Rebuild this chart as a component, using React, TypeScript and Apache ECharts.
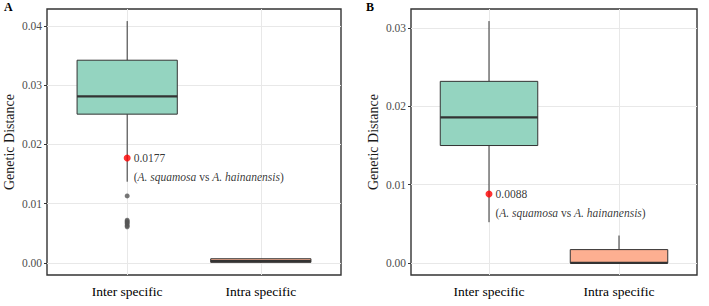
import React, { useEffect, useRef } from "react";
import * as echarts from "echarts";

// Category names along the x axis
const categories = ["Inter specific", "Intra specific"];

// Box statistics per category: [lower whisker, Q1, median, Q3, upper whisker]
const boxA = [
  [0.0137, 0.0251, 0.0281, 0.0342, 0.0408],
  [0.0, 0.0001, 0.0003, 0.0007, 0.0007],
];
const boxB = [
  [0.0052, 0.015, 0.0186, 0.0232, 0.0309],
  [0.0, 0.0, 0.0, 0.0017, 0.0035],
];

// Outlying inter-specific distances
const outliersA = [0.0113, 0.0072, 0.007, 0.0068, 0.0066, 0.0063, 0.0061];
const outliersB: number[] = [];

// A. squamosa vs A. hainanensis distance
const highlightA = 0.0177;
const highlightB = 0.0088;

// Major tick values of the y axes
const yTicksA = [0, 0.01, 0.02, 0.03, 0.04];
const yTicksB = [0, 0.01, 0.02, 0.03];

const FONT = "'Liberation Serif', 'DejaVu Serif', 'Times New Roman', serif";
const BOX_FILLS = ["#94d4c0", "#fdaf91"];
const INK = "#333333";

type Rect = { left: number; top: number; width: number; height: number };

function buildPanel(
  idx: number,
  box: number[][],
  outliers: number[],
  highlight: number,
  yTicks: number[],
  rect: Rect
) {
  const all = box.flat().concat(outliers, [highlight]);
  const lo = Math.min(...all);
  const hi = Math.max(...all);
  const pad = (hi - lo) * 0.05;
  const yMin = lo - pad;
  const yMax = hi + pad;

  const half = (yTicks[1] - yTicks[0]) / 2;
  const minors: number[] = [];
  if (yTicks[0] - half > yMin) minors.push(yTicks[0] - half);
  yTicks.forEach((v) => {
    if (v + half < yMax) minors.push(+(v + half).toFixed(6));
  });

  const catPos = categories.map((_, i) => i + 1);

  const grid = {
    ...rect,
    show: true,
    borderColor: INK,
    borderWidth: 1.4,
    backgroundColor: "transparent",
    containLabel: false,
  };

  const xAxis = {
    gridIndex: idx,
    type: "value",
    min: 0.4,
    max: categories.length + 0.6,
    axisLine: { show: false },
    axisTick: {
      show: true,
      customValues: catPos,
      length: 3,
      lineStyle: { color: INK, width: 1 },
    },
    axisLabel: {
      customValues: catPos,
      formatter: (v: number) => categories[Math.round(v) - 1] ?? "",
      fontFamily: FONT,
      fontSize: 13.5,
      color: "#000000",
      margin: 9,
    },
    splitLine: { show: false },
  };

  const yAxis = {
    gridIndex: idx,
    type: "value",
    min: yMin,
    max: yMax,
    name: "Genetic Distance",
    nameLocation: "middle",
    nameGap: 31,
    nameTextStyle: { fontFamily: FONT, fontSize: 14, color: "#1a1a1a" },
    axisLine: { show: false },
    axisTick: {
      show: true,
      customValues: yTicks,
      length: 3,
      lineStyle: { color: INK, width: 1 },
    },
    axisLabel: {
      customValues: yTicks,
      formatter: (v: number) => v.toFixed(2),
      fontFamily: FONT,
      fontSize: 11.5,
      color: "#4d4d4d",
      margin: 5,
    },
    splitLine: { show: false },
  };

  const majorStyle = { color: "#e8e8e8", width: 1, type: "solid" };
  const minorStyle = { color: "#f2f2f2", width: 0.8, type: "solid" };

  // Panel grid lines, kept beneath the boxes and points
  const gridLines = {
    type: "line",
    xAxisIndex: idx,
    yAxisIndex: idx,
    data: [],
    z: 1,
    silent: true,
    markLine: {
      silent: true,
      z: 1,
      symbol: "none",
      label: { show: false },
      animation: false,
      data: [
        ...minors.map((v) => ({ yAxis: v, lineStyle: minorStyle })),
        ...yTicks.map((v) => ({ yAxis: v, lineStyle: majorStyle })),
        ...catPos.map((x) => ({ xAxis: x, lineStyle: majorStyle })),
      ],
    },
  };

  const boxes = {
    type: "custom",
    xAxisIndex: idx,
    yAxisIndex: idx,
    z: 3,
    silent: true,
    data: box.map((b, i) => [i + 1, ...b]),
    renderItem: (params: any, api: any) => {
      const x = api.value(0);
      const [lw, q1, md, q3, uw] = [1, 2, 3, 4, 5].map((k) => api.value(k));
      const halfW = api.size([0.75, 0])[0] / 2;
      const pLw = api.coord([x, lw]);
      const pQ1 = api.coord([x, q1]);
      const pMd = api.coord([x, md]);
      const pQ3 = api.coord([x, q3]);
      const pUw = api.coord([x, uw]);
      const cx = pMd[0];
      const stroke = { stroke: INK, lineWidth: 1 };
      return {
        type: "group",
        children: [
          {
            type: "line",
            shape: { x1: cx, y1: pQ1[1], x2: cx, y2: pLw[1] },
            style: stroke,
          },
          {
            type: "line",
            shape: { x1: cx, y1: pQ3[1], x2: cx, y2: pUw[1] },
            style: stroke,
          },
          {
            type: "rect",
            shape: {
              x: cx - halfW,
              y: pQ3[1],
              width: halfW * 2,
              height: pQ1[1] - pQ3[1],
            },
            style: { fill: BOX_FILLS[params.dataIndex], stroke: INK, lineWidth: 1 },
          },
          {
            type: "line",
            shape: { x1: cx - halfW, y1: pMd[1], x2: cx + halfW, y2: pMd[1] },
            style: { stroke: INK, lineWidth: 2.2 },
          },
        ],
      };
    },
  };

  const outlierSeries = {
    type: "scatter",
    xAxisIndex: idx,
    yAxisIndex: idx,
    z: 4,
    silent: true,
    symbolSize: 5,
    itemStyle: { color: "#555555", opacity: 0.8 },
    data: outliers.map((v) => [1, v]),
  };

  const highlightSeries = {
    type: "scatter",
    xAxisIndex: idx,
    yAxisIndex: idx,
    z: 5,
    silent: true,
    symbolSize: 7,
    itemStyle: { color: "#ff0000" },
    data: [[1, highlight]],
    label: {
      show: true,
      position: "right",
      distance: 3,
      offset: [0, 9.5],
      align: "left",
      formatter: () =>
        `{n|${highlight.toFixed(4)}}\n{t|(}{i|A. squamosa}{t| vs }{i|A. hainanensis}{t|)}`,
      rich: {
        n: { fontFamily: FONT, fontSize: 11.5, color: "#000", lineHeight: 19 },
        t: { fontFamily: FONT, fontSize: 11.5, color: "#000", lineHeight: 19 },
        i: {
          fontFamily: FONT,
          fontSize: 11.5,
          fontStyle: "italic",
          color: "#000",
          lineHeight: 19,
        },
      },
    },
  };

  return {
    grid,
    xAxis,
    yAxis,
    series: [gridLines, boxes, outlierSeries, highlightSeries],
  };
}

export default function App() {
  const ref = useRef<HTMLDivElement>(null);

  useEffect(() => {
    document.body.style.margin = "0";
    if (!ref.current) return;
    const chart = echarts.init(ref.current, undefined, { renderer: "svg" });

    const a = buildPanel(0, boxA, outliersA, highlightA, yTicksA, {
      left: 47,
      top: 9,
      width: 294,
      height: 266,
    });
    const b = buildPanel(1, boxB, outliersB, highlightB, yTicksB, {
      left: 411,
      top: 9,
      width: 286,
      height: 266,
    });

    chart.setOption({
      animation: false,
      backgroundColor: "#ffffff",
      title: [
        {
          text: "A",
          left: 4,
          top: 1,
          padding: 0,
          textStyle: { fontFamily: FONT, fontWeight: "bold", fontSize: 12, color: "#000" },
        },
        {
          text: "B",
          left: 366,
          top: 1,
          padding: 0,
          textStyle: { fontFamily: FONT, fontWeight: "bold", fontSize: 12, color: "#000" },
        },
      ],
      grid: [a.grid, b.grid],
      xAxis: [a.xAxis, b.xAxis],
      yAxis: [a.yAxis, b.yAxis],
      series: [...a.series, ...b.series],
    });

    return () => chart.dispose();
  }, []);

  return <div ref={ref} style={{ width: 709, height: 306 }} />;
}
